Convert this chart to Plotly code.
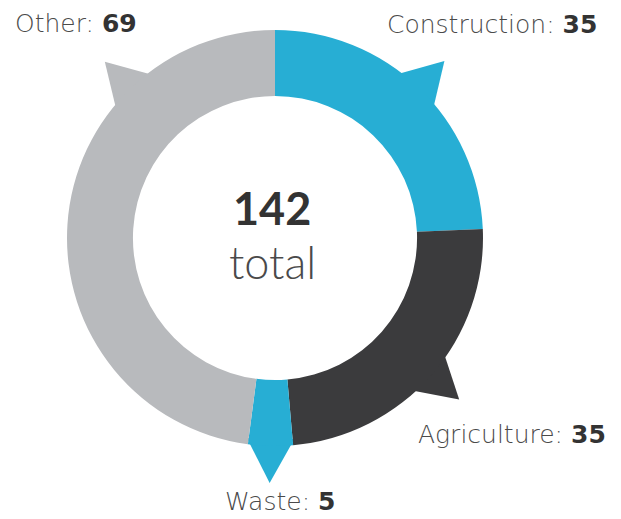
import math
import plotly.graph_objects as go

# ---- data ----
categories = ["Construction", "Agriculture", "Waste", "Other"]
values = [35, 35, 5, 69]
total_label = "142"
colors = ["#27aed4", "#3b3b3d", "#27aed4", "#b8babd"]
# angle (deg, clockwise from 12 o'clock) of the pointer for "Other" (points to its label)
other_pointer_angle = 316

# page geometry (the page body adds an 8px margin around the figure)
PW, PH, OFF = 621, 519, 8
W, H = PW - OFF, PH - OFF
CX, CY, R = 275, 238, 208
HOLE = 0.683

fig = go.Figure()

# pointer triangles (drawn in page-pixel coordinates on an overlay axis)
tot = sum(values)
cum = 0
for cat, v, col in zip(categories, values, colors):
    start = cum / tot * 360
    end = (cum + v) / tot * 360
    cum += v
    mid = (start + end) / 2
    half = 7.0
    if cat == "Other":
        mid = other_pointer_angle
    if cat == "Waste":
        half = (end - start) / 2
    tip_r = R + 37
    base_r = R - 6
    pts = [(mid - half - 0.5, base_r), (mid, tip_r), (mid + half + 0.5, base_r)]
    xs = [CX + r * math.sin(math.radians(a)) for a, r in pts]
    ys = [CY - r * math.cos(math.radians(a)) for a, r in pts]
    fig.add_trace(go.Scatter(x=xs + [xs[0]], y=ys + [ys[0]], mode="lines", fill="toself",
                             fillcolor=col, line=dict(width=0, color=col),
                             hoverinfo="skip", showlegend=False))

fig.add_trace(go.Pie(
    labels=categories, values=values, marker=dict(colors=colors, line=dict(width=0)),
    hole=HOLE, sort=False, direction="clockwise", rotation=0,
    textinfo="none", hoverinfo="label+value", showlegend=False,
    domain=dict(x=[(CX - R - OFF) / W, (CX + R - OFF) / W],
                y=[(PH - CY - R) / H, (PH - CY + R) / H]),
))

light = dict(family="'DejaVu Sans', 'Open Sans', sans-serif", size=25, color="#4a4a4a", weight=200)

def label(text, x, y, xanchor):
    fig.add_annotation(x=x, y=y, xref="x", yref="y", text=text, showarrow=False,
                       xanchor=xanchor, yanchor="middle", font=light)

label(f"{categories[3]}: <b style='color:#333'>{values[3]}</b>", 13, 23, "left")
label(f"{categories[0]}: <b style='color:#333'>{values[0]}</b>", 599, 24, "right")
label(f"{categories[1]}: <b style='color:#333'>{values[1]}</b>", 608, 434, "right")
label(f"{categories[2]}: <b style='color:#333'>{values[2]}</b>", 280, 501, "center")

fig.add_annotation(x=272, y=208, xref="x", yref="y", text=f"<b>{total_label}</b>", showarrow=False,
                   font=dict(family="Lato, sans-serif", size=45, color="#333333"))
fig.add_annotation(x=272, y=262, xref="x", yref="y", text="total", showarrow=False,
                   font=dict(family="Lato, sans-serif", size=45, color="#4a4a4a", weight=300))

fig.update_layout(
    width=W, height=H, margin=dict(l=0, r=0, t=0, b=0),
    paper_bgcolor="white", plot_bgcolor="white",
    xaxis=dict(range=[OFF, PW], visible=False, fixedrange=True),
    yaxis=dict(range=[PH, OFF], visible=False, fixedrange=True),
)

fig.write_html("out.html")
